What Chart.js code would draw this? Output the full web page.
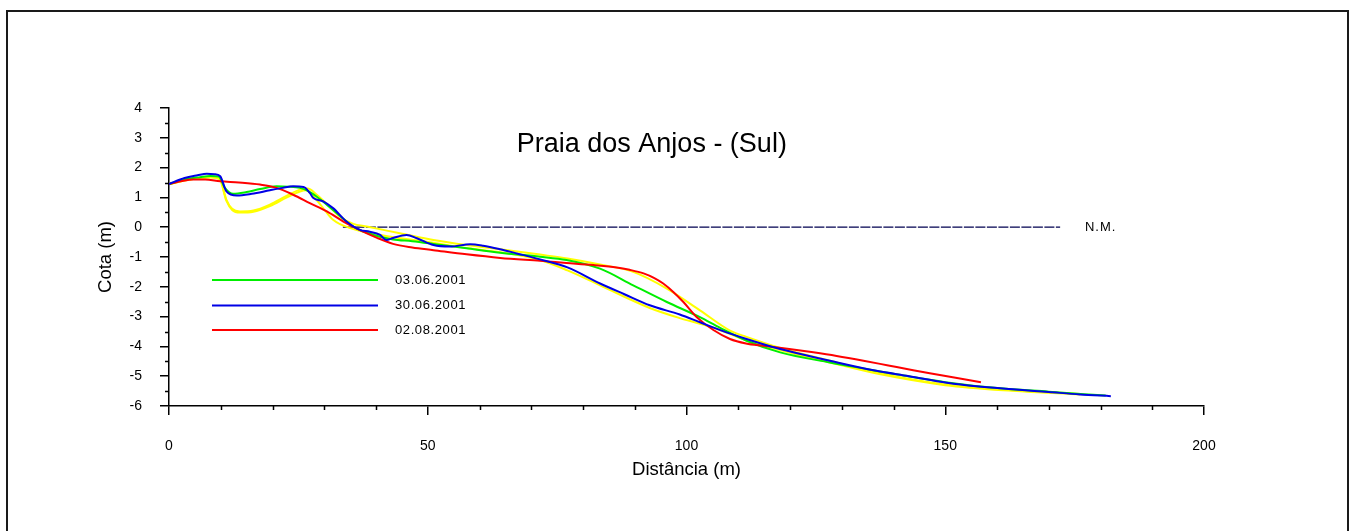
<!DOCTYPE html>
<html>
<head>
<meta charset="utf-8">
<title>Praia dos Anjos - (Sul)</title>
<script src="https://cdn.jsdelivr.net/npm/chart.js@4.4.1/dist/chart.umd.min.js"></script>
<style>
    html, body { margin: 0; padding: 0; background: #fff; }
    #frame {
        position: absolute; left: 6px; top: 10px; width: 1343px; height: 600px;
        box-sizing: border-box; border: 2px solid #1a1a1a; border-bottom: none;
    }
    #wrap { position: absolute; left: 0; top: 0; width: 1349px; height: 531px; }
</style>
</head>
<body>
<div id="frame"></div>
<div id="wrap"><canvas id="profileChart"></canvas></div>
<script>
// Beach profiles, distance (m) vs elevation (m)
const dist0306 = [0, 3, 6, 8, 9.6, 10.8, 12.4, 15, 17.6, 20.8, 23, 25.3, 27, 28.5, 31.7, 35.6, 39.5, 43.3, 47, 51.1, 57.5, 64, 71.7, 76.8, 83.3, 89.7, 96.2, 102.6, 106.5, 111.6, 118.1, 127.7, 134.8, 142, 150, 160, 170, 181];
const cota0306 = [1.45, 1.6, 1.68, 1.72, 1.7, 1.32, 1.12, 1.18, 1.28, 1.37, 1.36, 1.32, 1.2, 1.03, 0.58, 0.02, -0.26, -0.41, -0.47, -0.56, -0.71, -0.86, -0.99, -1.1, -1.39, -1.95, -2.51, -3.02, -3.38, -3.81, -4.2, -4.54, -4.76, -4.98, -5.2, -5.4, -5.52, -5.65];

const dist3006 = [0, 3, 5.5, 7.3, 8.8, 9.9, 11.1, 13.1, 16, 19.5, 22, 24, 26, 27.2, 27.9, 29.8, 31.7, 34.3, 36.9, 38.8, 40.8, 42, 43.3, 45.9, 47.9, 51.1, 54.3, 58.2, 60.7, 64, 67.2, 71.7, 77, 83.3, 88, 92.9, 98.7, 102.6, 106.8, 111.6, 118.1, 127.7, 136.7, 143, 150.3, 156, 163.1, 170, 176, 182];
const cota3006 = [1.45, 1.65, 1.74, 1.79, 1.78, 1.71, 1.2, 1.06, 1.12, 1.24, 1.32, 1.37, 1.35, 1.15, 0.98, 0.87, 0.64, 0.19, -0.09, -0.15, -0.26, -0.43, -0.36, -0.26, -0.37, -0.6, -0.65, -0.57, -0.62, -0.74, -0.88, -1.08, -1.35, -1.89, -2.25, -2.62, -2.93, -3.19, -3.47, -3.75, -4.09, -4.48, -4.82, -5.0, -5.22, -5.34, -5.44, -5.53, -5.61, -5.67];

const dist0208 = [0, 2.5, 4.7, 7, 9.9, 13.5, 17.6, 20.8, 24, 27.2, 30.5, 33.7, 36.9, 40.1, 43.3, 47, 51.1, 57.5, 64, 71.7, 76.8, 82, 86.5, 89, 91.7, 93.7, 95.5, 97.5, 99.4, 102, 105.2, 108.4, 111.5, 114.8, 119.5, 124.5, 129, 134.2, 139, 143.8, 147, 152, 156.9];
const cota0208 = [1.45, 1.55, 1.6, 1.6, 1.54, 1.5, 1.43, 1.32, 1.09, 0.81, 0.53, 0.19, -0.1, -0.35, -0.56, -0.68, -0.77, -0.91, -1.03, -1.13, -1.2, -1.27, -1.35, -1.43, -1.55, -1.7, -1.89, -2.18, -2.51, -3.02, -3.45, -3.75, -3.9, -3.98, -4.08, -4.2, -4.32, -4.48, -4.64, -4.8, -4.9, -5.05, -5.2];

// two older surveys, drawn in yellow without a legend entry
const distYellowA = [0, 4, 8, 9.8, 11.1, 12.2, 13.7, 16.3, 19.5, 22.7, 25.3, 26.8, 28.5, 30.5, 33, 35.5, 38.2, 44.6, 51.1, 57.5, 64, 71.7, 77, 83.3, 89.7, 96.2, 102.6, 108.4, 111.6, 118.1, 127, 137, 150, 163, 176];
const cotaYellowA = [1.45, 1.6, 1.68, 1.62, 0.92, 0.62, 0.53, 0.56, 0.76, 1.05, 1.26, 1.3, 1.1, 0.78, 0.36, 0.12, 0.02, -0.2, -0.43, -0.6, -0.74, -0.92, -1.05, -1.25, -1.5, -2.06, -2.79, -3.47, -3.68, -4.05, -4.45, -4.88, -5.28, -5.47, -5.6];

const distYellowB = [0, 4, 8, 9.8, 11.1, 12.2, 13.7, 16.3, 19.5, 22.7, 25.3, 26.5, 28.2, 30.2, 31.7, 35, 41.4, 51.1, 57.5, 64, 71.7, 77, 83.3, 92.9, 98.7, 102.6, 105.8, 111.6, 118.1, 127.7, 137, 150, 163, 176];
const cotaYellowB = [1.45, 1.6, 1.68, 1.6, 0.88, 0.58, 0.49, 0.52, 0.71, 0.99, 1.2, 1.24, 0.98, 0.55, 0.25, -0.03, -0.28, -0.52, -0.7, -0.84, -1.1, -1.45, -1.95, -2.71, -3.05, -3.24, -3.41, -3.8, -4.12, -4.54, -4.92, -5.3, -5.49, -5.61];

// mean sea level reference (N.M.)
const distNM = [33.6, 172.2];
const cotaNM = [0, 0];

const legendLabels = ['03.06.2001', '30.06.2001', '02.08.2001'];
const legendColors = ['#00ee00', '#0000e6', '#ff0000'];

const toPoints = (xs, ys) => xs.map((x, i) => ({ x: x, y: ys[i] }));

const profile = (points, color, order) => ({
    data: points,
    borderColor: color,
    borderWidth: 2,
    pointRadius: 0,
    cubicInterpolationMode: 'monotone',
    fill: false,
    order: order
});

const datasets = [
    profile(toPoints(dist3006, cota3006), legendColors[1], 1),
    profile(toPoints(dist0208, cota0208), legendColors[2], 2),
    profile(toPoints(dist0306, cota0306), legendColors[0], 3),
    profile(toPoints(distYellowA, cotaYellowA), '#ffff00', 4),
    profile(toPoints(distYellowB, cotaYellowB), '#ffff00', 5),
    {
        data: toPoints(distNM, cotaNM),
        borderColor: '#000050',
        borderWidth: 1.2,
        borderDash: [10, 1.5],
        pointRadius: 0,
        order: 6
    }
];

// title, N.M. label, legend and the small ticks
const extras = {
    id: 'extras',
    afterDraw(chart) {
        const ctx = chart.ctx;
        const xs = chart.scales.x;
        const ys = chart.scales.y;
        const area = chart.chartArea;
        ctx.save();

        // minor ticks
        ctx.strokeStyle = '#000';
        ctx.lineWidth = 1.5;
        ctx.beginPath();
        for (let v = -5.5; v < 4; v += 1) {
            const py = Math.round(ys.getPixelForValue(v)) + 0.5;
            ctx.moveTo(area.left - 4, py);
            ctx.lineTo(area.left, py);
        }
        for (let v = 10; v < 200; v += 10) {
            if (v % 50 === 0) continue;
            const px = Math.round(xs.getPixelForValue(v)) + 0.5;
            ctx.moveTo(px, area.bottom);
            ctx.lineTo(px, area.bottom + 4);
        }
        ctx.stroke();

        ctx.fillStyle = '#000';
        ctx.font = '27px "Liberation Sans", Arial, sans-serif';
        ctx.textAlign = 'center';
        ctx.textBaseline = 'middle';
        ctx.fillText('Praia dos Anjos - (Sul)', xs.getPixelForValue(93.3), ys.getPixelForValue(2.78));

        ctx.font = '13px "Liberation Sans", Arial, sans-serif';
        ctx.letterSpacing = '1px';
        ctx.textAlign = 'left';
        ctx.fillText('N.M.', xs.getPixelForValue(177), ys.getPixelForValue(0));

        // legend
        ctx.letterSpacing = '0.6px';
        const rows = [172, 197.5, 222];
        legendLabels.forEach((label, i) => {
            const y = area.top + rows[i];
            ctx.strokeStyle = legendColors[i];
            ctx.lineWidth = 2;
            ctx.beginPath();
            ctx.moveTo(area.left + 43, y);
            ctx.lineTo(area.left + 209, y);
            ctx.stroke();
            ctx.fillText(label, area.left + 226, y);
        });
        ctx.restore();
    }
};

const axisFont = { family: '"Liberation Sans", Arial, sans-serif', size: 14 };
const titleFont = { family: '"Liberation Sans", Arial, sans-serif', size: 18.5 };

const config = {
    type: 'line',
    data: { datasets: datasets },
    options: {
        responsive: true,
        maintainAspectRatio: false,
        animation: false,
        layout: { padding: { left: 69, right: 145, top: 108, bottom: 25 } },
        plugins: {
            legend: { display: false },
            tooltip: { enabled: false }
        },
        scales: {
            x: {
                type: 'linear',
                min: 0,
                max: 200,
                afterFit(scale) { scale.height = 100; },
                ticks: { stepSize: 50, color: '#000', font: axisFont, padding: 23, maxRotation: 0 },
                grid: { drawOnChartArea: false, drawTicks: true, tickLength: 9, color: '#000', lineWidth: 1.5 },
                border: { display: true, color: '#000', width: 1.5 },
                title: { display: true, text: 'Distância (m)', color: '#000', font: titleFont, padding: { top: 0, bottom: 25 } }
            },
            y: {
                min: -6,
                max: 4,
                afterFit(scale) { scale.width = 100; },
                ticks: { stepSize: 1, color: '#000', font: axisFont, padding: 18 },
                grid: { drawOnChartArea: false, drawTicks: true, tickLength: 9, color: '#000', lineWidth: 1.5 },
                border: { display: true, color: '#000', width: 1.5 },
                title: { display: true, text: 'Cota (m)', color: '#000', font: titleFont, padding: { top: 25.6, bottom: 0 } }
            }
        }
    },
    plugins: [extras]
};

window.addEventListener('load', () => {
    const ctx = document.getElementById('profileChart').getContext('2d');
    new Chart(ctx, config);
});
</script>
</body>
</html>
